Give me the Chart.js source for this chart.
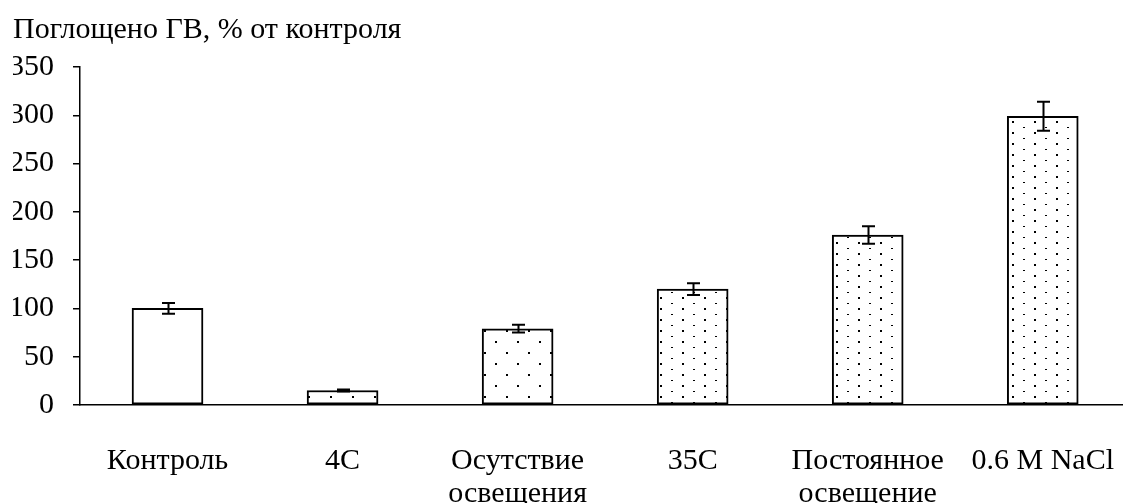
<!DOCTYPE html>
<html>
<head>
<meta charset="utf-8">
<script src="https://cdn.jsdelivr.net/npm/chart.js@4.4.1/dist/chart.umd.min.js"></script>
<style>
  html, body { margin: 0; padding: 0; background: #fff; overflow: hidden; }
</style>
</head>
<body>
<canvas id="graph" width="1153" height="503"></canvas>
<script>
// data
var categories = ['Контроль', '4C', ['Осутствие', 'освещения'], '35C', ['Постоянное', 'освещение'], '0.6 M NaCl'];
var values = [100, 15, 79, 120, 176, 299];
var errors = [5.5, 1, 4, 6, 9, 15];
var fills = ['none', 'sparse', 'sparse', 'dense', 'dense', 'dense'];
var yTicks = [0, 50, 100, 150, 200, 250, 300, 350];

var FONT = "'Liberation Serif', 'Times New Roman', serif";

function makePattern(kind) {
    var c = document.createElement('canvas');
    var ctx = c.getContext('2d');
    if (kind === 'sparse') {
        c.width = 22; c.height = 22;
        ctx.fillStyle = '#fff';
        ctx.fillRect(0, 0, 22, 22);
        ctx.fillStyle = '#000';
        ctx.fillRect(0, 0, 2, 2);
        ctx.fillRect(11, 11, 2, 2);
    } else if (kind === 'dense') {
        c.width = 22; c.height = 11;
        ctx.fillStyle = '#fff';
        ctx.fillRect(0, 0, 22, 11);
        ctx.fillStyle = '#000';
        ctx.fillRect(0, 0, 2, 2);
        ctx.fillRect(11, 6, 2, 1);
    } else {
        return '#ffffff';
    }
    return document.getElementById('graph').getContext('2d').createPattern(c, 'repeat');
}

var errorBars = {
    id: 'errorBars',
    afterDatasetsDraw: function (chart) {
        var ctx = chart.ctx;
        var y = chart.scales.y;
        var meta = chart.getDatasetMeta(0);
        ctx.save();
        ctx.strokeStyle = '#000';
        ctx.lineWidth = 2;
        meta.data.forEach(function (bar, i) {
            var top = y.getPixelForValue(values[i] + errors[i]);
            var bot = y.getPixelForValue(values[i] - errors[i]);
            var x = Math.round(bar.x) + 0.5;
            ctx.beginPath();
            ctx.moveTo(x, top);
            ctx.lineTo(x, bot);
            ctx.moveTo(x - 6.5, top);
            ctx.lineTo(x + 6.5, top);
            ctx.moveTo(x - 6.5, bot);
            ctx.lineTo(x + 6.5, bot);
            ctx.stroke();
        });
        ctx.restore();
    }
};

var config = {
    type: 'bar',
    data: {
        labels: categories,
        datasets: [{
            data: values,
            backgroundColor: fills.map(makePattern),
            borderColor: '#000',
            borderWidth: 2,
            borderSkipped: false,
            barThickness: 71
        }]
    },
    options: {
        responsive: false,
        animation: false,
        layout: { padding: { left: 13, right: 0, top: 0, bottom: 0 } },
        plugins: {
            legend: { display: false },
            tooltip: { enabled: false },
            title: {
                display: true,
                text: 'Поглощено ГВ, % от контроля',
                align: 'start',
                color: '#000',
                font: { family: FONT, size: 30, weight: 'normal', lineHeight: 1.2 },
                padding: { top: 12, bottom: 19 }
            }
        },
        scales: {
            x: {
                afterFit: function (scale) { scale.height = 98; },
                grid: { display: true, drawOnChartArea: false, drawTicks: false },
                border: { display: true, color: '#000', width: 1.5 },
                ticks: {
                    color: '#000',
                    padding: 39,
                    maxRotation: 0,
                    autoSkip: false,
                    font: { family: FONT, size: 30, lineHeight: 1.12 }
                }
            },
            y: {
                min: 0,
                max: 350,
                afterFit: function (scale) { scale.width = 67; },
                afterBuildTicks: function (scale) {
                    scale.ticks = yTicks.map(function (v) { return { value: v }; });
                },
                grid: { drawOnChartArea: false, drawTicks: true, tickLength: 7, color: '#000', lineWidth: 1.5 },
                border: { display: true, color: '#000', width: 1.5 },
                ticks: {
                    color: '#000',
                    padding: 19,
                    font: { family: FONT, size: 30 }
                }
            }
        }
    },
    plugins: [errorBars]
};

new Chart(document.getElementById('graph').getContext('2d'), config);
</script>
</body>
</html>
